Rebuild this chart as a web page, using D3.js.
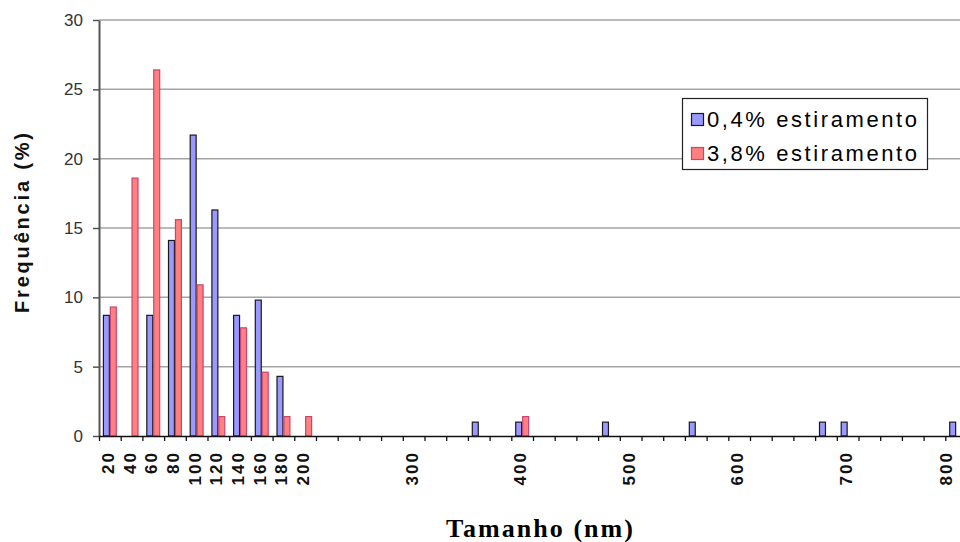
<!DOCTYPE html>
<html>
<head>
<meta charset="utf-8">
<script src="https://cdn.jsdelivr.net/npm/d3@7"></script>
<style>
  body { margin: 0; background: #fff; }
  svg { display: block; font-family: "Liberation Sans", Arial, sans-serif; }
</style>
</head>
<body>
<div id="chart"></div>
<script>
// Size classes (nm), one bar pair per class
var categories = ["20", "40", "60", "80", "100", "120", "140", "160", "180", "200",
  "220", "240", "260", "280", "300", "320", "340", "360", "380", "400",
  "420", "440", "460", "480", "500", "520", "540", "560", "580", "600",
  "620", "640", "660", "680", "700", "720", "740", "760", "780", "800"];

// only these classes carry a label under the axis
var tickLabels = ["20", "40", "60", "80", "100", "120", "140", "160", "180", "200",
  "300", "400", "500", "600", "700", "800"];

var seriesNames = ["0,4% estiramento", "3,8% estiramento"];

var blueValues = [8.7, 0, 8.7, 14.1, 21.7, 16.3, 8.7, 9.8, 4.3, 0,
  0, 0, 0, 0, 0, 0, 0, 1.0, 0, 1.0,
  0, 0, 0, 1.0, 0, 0, 0, 1.0, 0, 0,
  0, 0, 0, 1.0, 1.0, 0, 0, 0, 0, 1.0];

var redValues = [9.3, 18.6, 26.4, 15.6, 10.9, 1.4, 7.8, 4.6, 1.4, 1.4,
  0, 0, 0, 0, 0, 0, 0, 0, 0, 1.4,
  0, 0, 0, 0, 0, 0, 0, 0, 0, 0,
  0, 0, 0, 0, 0, 0, 0, 0, 0, 0];

var yTicks = [0, 5, 10, 15, 20, 25, 30];

var svgWidth = 960;
var svgHeight = 542;

var plot = { left: 99, right: 967, top: 20, bottom: 436 };

var svg = d3.select("#chart")
  .append("svg")
  .attr("width", svgWidth)
  .attr("height", svgHeight);

var fills = ["#9999ff", "#ff8080"];
var strokes = ["#1a1a1a", "#c8456e"];

var table = categories.map(function(c, i) {
  return { cat: c, values: [blueValues[i], redValues[i]] };
});

// Scales
var x = d3.scaleBand()
  .domain(categories)
  .range([plot.left, plot.right])
  .paddingInner(0.36)
  .paddingOuter(0.18);

var xInner = d3.scaleBand()
  .domain([0, 1])
  .range([0, x.bandwidth()]);

var y = d3.scaleLinear()
  .domain([0, 30])
  .range([plot.bottom, plot.top]);

// Gridlines
svg.append("g")
  .selectAll("line")
  .data(yTicks.slice(1))
  .enter()
  .append("line")
  .attr("x1", plot.left)
  .attr("x2", svgWidth)
  .attr("y1", d => y(d))
  .attr("y2", d => y(d))
  .attr("stroke", "#a3a3a3")
  .attr("stroke-width", 1.5);

// Bars
var groups = svg.append("g")
  .selectAll("g")
  .data(table)
  .enter()
  .append("g")
  .attr("transform", d => `translate(${x(d.cat)}, 0)`);

groups.selectAll("rect")
  .data(d => d.values.map((v, k) => ({ v: v, k: k })).filter(e => e.v > 0))
  .enter()
  .append("rect")
  .attr("x", e => xInner(e.k) + 0.5)
  .attr("y", e => y(e.v))
  .attr("width", xInner.bandwidth() - 1)
  .attr("height", e => y(0) - y(e.v))
  .attr("fill", e => fills[e.k])
  .attr("stroke", e => strokes[e.k])
  .attr("stroke-width", 1.2);

// Y axis
var leftAxis = d3.axisLeft(y)
  .tickValues(yTicks)
  .tickSize(6)
  .tickPadding(10)
  .tickSizeOuter(0);

var gy = svg.append("g")
  .attr("transform", `translate(${plot.left}, 0)`)
  .call(leftAxis);
gy.select(".domain").attr("stroke", "#555").attr("stroke-width", 2);
gy.selectAll(".tick line").attr("stroke", "#555").attr("stroke-width", 1.5);
gy.selectAll(".tick text")
  .attr("fill", "#333")
  .style("font-size", "17px");

// X axis: tick marks on class boundaries
var xEdge = d3.scaleLinear()
  .domain([0, categories.length])
  .range([plot.left, plot.right]);

var gx = svg.append("g")
  .attr("transform", `translate(0, ${plot.bottom})`)
  .call(d3.axisBottom(xEdge).ticks(categories.length).tickSize(5).tickSizeOuter(0).tickFormat(""));
gx.select(".domain").attr("stroke", "#111").attr("stroke-width", 1.5);
gx.selectAll(".tick line").attr("stroke", "#111").attr("stroke-width", 1.3);

// X tick labels, rotated (last one kept inside the picture)
svg.append("g")
  .selectAll("text")
  .data(tickLabels)
  .enter()
  .append("text")
  .attr("transform", d => `translate(${Math.min(x(d) + x.bandwidth() / 2 + 4, 952)}, 451) rotate(-90)`)
  .attr("text-anchor", "end")
  .style("font-size", "17px")
  .style("font-weight", "bold")
  .style("letter-spacing", "2px")
  .attr("fill", "#111")
  .text(d => d);

// Axis titles
svg.append("text")
  .attr("transform", "translate(29, 223) rotate(-90)")
  .attr("text-anchor", "middle")
  .style("font-size", "20px")
  .style("font-weight", "bold")
  .attr("fill", "#111")
  .attr("textLength", 180)
  .text("Frequência (%)");

svg.append("text")
  .attr("x", 446)
  .attr("y", 537)
  .style("font-family", "'Liberation Serif', 'Times New Roman', serif")
  .style("font-size", "26px")
  .style("font-weight", "bold")
  .attr("textLength", 187)
  .text("Tamanho (nm)");

// Legend
var legend = svg.append("g");
legend.append("rect")
  .attr("x", 682.5)
  .attr("y", 98.5)
  .attr("width", 245)
  .attr("height", 71)
  .attr("fill", "#fff")
  .attr("stroke", "#222")
  .attr("stroke-width", 1.2);

var items = legend.selectAll("g.item")
  .data(seriesNames)
  .enter()
  .append("g")
  .attr("class", "item")
  .attr("transform", (d, i) => `translate(0, ${i * 34})`);

items.append("rect")
  .attr("x", 691.5)
  .attr("y", 113.5)
  .attr("width", 12)
  .attr("height", 12)
  .attr("fill", (d, i) => fills[i])
  .attr("stroke", (d, i) => strokes[i])
  .attr("stroke-width", 1.2);

items.append("text")
  .attr("x", 707)
  .attr("y", 127)
  .style("font-size", "22px")
  .attr("fill", "#000")
  .attr("textLength", 210)
  .text(d => d);
</script>
</body>
</html>
